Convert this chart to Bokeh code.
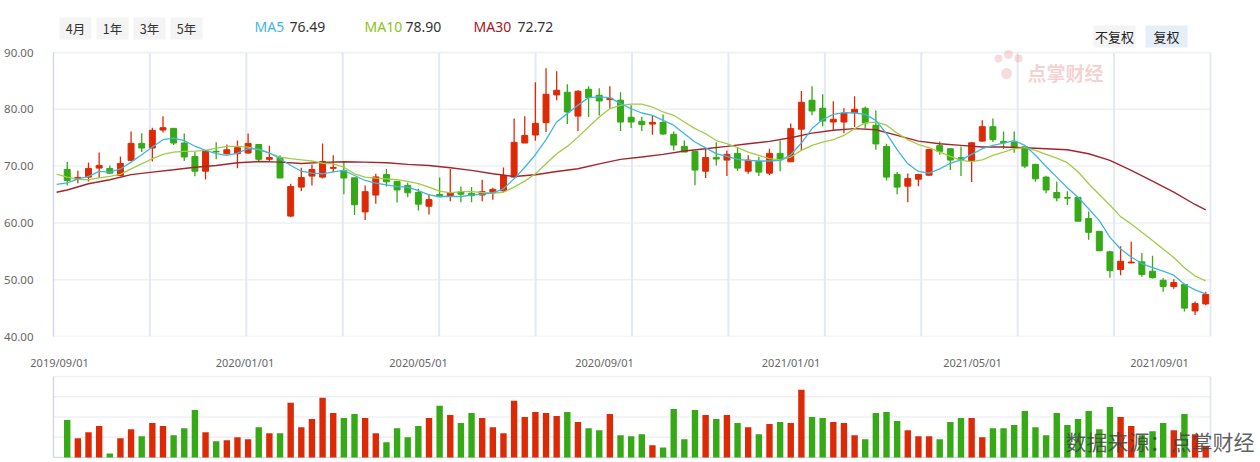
from bokeh.plotting import figure
from bokeh.models import ColumnDataSource, FixedTicker, Range1d, NumeralTickFormatter, Label
from bokeh.layouts import column
from bokeh.embed import file_html
from bokeh.resources import INLINE
from bokeh.core.properties import value

# ---------------- data (weekly candles) ----------------
opens = [69.41, 67.65, 68.06, 69.65, 69.59, 68.35, 71.0, 74.0, 73.18, 76.35,
         76.65, 74.06, 71.7, 69.1, 72.6, 72.18, 72.18, 72.3, 73.8, 71.2,
         71.5, 61.2, 66.3, 68.24, 68.06, 69.6, 69.2, 67.94, 61.94, 64.9,
         68.5, 67.3, 66.6, 65.35, 62.94, 65.0, 64.65, 65.47, 65.2, 64.9,
         65.3, 65.65, 68.06, 74.06, 75.47, 77.65, 82.53, 83.0, 78.8, 83.53,
         82.47, 81.7, 81.6, 78.6, 77.9, 77.4, 77.7, 75.6, 73.47, 72.6,
         69.1, 71.53, 71.06, 72.24, 69.1, 70.8, 68.76, 72.24, 70.76, 76.5,
         81.6, 80.18, 77.76, 77.76, 79.4, 80.18, 77.18, 73.47, 68.53, 66.47,
         67.7, 68.4, 73.6, 73.06, 71.47, 70.9, 74.4, 76.94, 74.35, 74.18,
         73.4, 70.3, 68.06, 65.35, 64.47, 64.5, 60.77, 58.5, 54.9, 51.78,
         52.96, 53.14, 51.5, 49.9, 48.8, 49.17, 44.5, 45.74]
highs = [70.7, 69.2, 70.65, 72.4, 70.12, 71.7, 76.1, 75.8, 76.76, 78.76,
         76.65, 75.76, 72.5, 72.76, 74.2, 73.8, 74.5, 75.76, 73.8, 73.6,
         71.9, 66.9, 69.7, 70.3, 74.0, 71.9, 70.7, 67.94, 66.6, 68.65,
         69.5, 67.3, 67.06, 66.0, 65.1, 68.0, 69.5, 66.4, 66.3, 67.6,
         66.2, 69.76, 78.4, 78.76, 84.76, 87.24, 86.7, 84.4, 83.35, 84.06,
         83.7, 84.06, 83.0, 80.7, 78.7, 78.9, 79.1, 76.1, 74.5, 72.6,
         73.1, 74.2, 72.76, 73.2, 71.9, 71.65, 73.06, 74.5, 77.5, 83.2,
         84.06, 82.65, 81.4, 80.18, 82.3, 80.5, 79.8, 73.94, 68.94, 68.7,
         68.65, 73.06, 74.35, 73.06, 73.47, 74.18, 78.06, 78.4, 76.1, 76.1,
         73.4, 70.4, 68.3, 67.3, 65.56, 64.5, 62.0, 58.6, 55.1, 55.9,
         56.7, 54.7, 54.2, 50.3, 50.06, 49.3, 46.15, 47.9]
lows = [66.6, 67.0, 67.3, 67.9, 68.6, 68.2, 70.9, 72.5, 70.8, 75.9,
        73.7, 70.9, 68.2, 67.65, 71.2, 72.06, 69.6, 72.2, 70.9, 70.8,
        67.9, 61.0, 65.6, 66.6, 67.8, 68.9, 65.06, 61.4, 60.5, 63.35,
        66.4, 63.6, 64.5, 62.2, 61.5, 64.6, 63.8, 63.65, 63.65, 63.8,
        64.06, 65.5, 68.06, 74.06, 74.47, 76.0, 81.6, 77.4, 76.2, 78.65,
        78.9, 80.1, 76.2, 76.7, 76.2, 75.5, 75.5, 72.76, 72.47, 66.65,
        67.9, 70.1, 68.24, 69.2, 68.65, 68.24, 68.4, 69.1, 70.76, 72.76,
        78.94, 77.0, 76.4, 75.8, 76.9, 76.6, 72.9, 67.47, 65.06, 63.65,
        66.47, 68.3, 72.0, 69.3, 68.24, 67.18, 74.3, 74.24, 73.0, 72.35,
        69.65, 67.24, 65.2, 63.8, 63.14, 60.3, 57.04, 55.03, 50.35, 50.8,
        52.9, 50.5, 50.2, 47.9, 48.4, 44.4, 43.8, 45.5]
closes = [67.47, 68.0, 69.59, 70.12, 68.76, 70.47, 74.0, 73.18, 76.3, 76.76,
          74.06, 71.6, 69.1, 72.65, 72.5, 72.88, 73.24, 74.0, 71.2, 71.5,
          67.9, 66.4, 68.0, 69.4, 70.8, 69.76, 67.9, 63.2, 65.5, 68.1,
          67.24, 65.8, 65.3, 63.3, 64.1, 64.6, 65.3, 65.06, 64.8, 65.5,
          65.9, 68.35, 74.18, 75.4, 77.53, 82.65, 83.35, 79.53, 83.18, 82.06,
          81.47, 81.94, 77.76, 77.76, 77.3, 77.7, 75.65, 73.7, 72.47, 69.3,
          71.53, 71.24, 72.06, 69.65, 71.06, 68.94, 72.24, 71.1, 76.6, 81.24,
          79.7, 77.94, 78.24, 79.35, 80.0, 77.6, 73.9, 68.06, 66.3, 67.8,
          68.53, 72.94, 72.6, 71.06, 71.1, 74.1, 76.94, 74.65, 74.1, 73.24,
          70.0, 67.76, 65.8, 64.4, 64.35, 60.3, 58.34, 55.1, 51.6, 53.25,
          53.1, 50.9, 50.35, 48.8, 49.5, 45.0, 45.8, 47.4]
volumes = [1.85, 0.95, 1.25, 1.55, 0.2, 0.95, 1.4, 1.05, 1.7, 1.55,
           1.1, 1.45, 2.35, 1.25, 0.8, 0.85, 1.0, 0.9, 1.5, 1.2,
           1.2, 2.7, 1.5, 1.9, 2.95, 2.2, 1.95, 2.15, 1.95, 1.2,
           0.75, 1.45, 1.0, 1.55, 1.95, 2.55, 2.1, 1.7, 2.2, 1.95,
           1.5, 1.2, 2.8, 2.0, 2.25, 2.2, 2.05, 2.25, 1.75, 1.45,
           1.35, 2.15, 1.1, 1.05, 1.15, 0.6, 0.5, 2.4, 0.9, 2.35,
           2.1, 1.9, 2.1, 1.7, 1.5, 1.15, 1.65, 1.75, 1.7, 3.35,
           2.0, 1.95, 1.75, 1.7, 1.1, 0.9, 2.2, 2.25, 1.8, 1.35,
           1.05, 1.05, 0.9, 1.75, 1.95, 1.95, 1.0, 1.45, 1.45, 1.6,
           2.3, 1.5, 1.1, 2.2, 1.6, 1.9, 2.3, 1.4, 2.5, 2.0,
           1.55, 1.1, 1.3, 1.7, 1.35, 2.15, 1.15, 0.55]

# moving averages (first value = week before the first candle)
ma5 = [66.8, 67.06, 67.7, 68.2, 69.06, 68.94, 69.5, 70.7, 72.0, 73.35, 74.65,
       74.94, 74.5, 73.5, 72.76, 72.18, 71.9, 72.3, 73.06, 73.0, 72.3,
       71.3, 70.1, 69.1, 68.76, 68.65, 69.0, 69.24, 68.35, 67.47, 67.0,
       66.7, 66.4, 66.3, 65.7, 64.94, 64.65, 64.65, 64.65, 64.9, 65.06,
       65.3, 66.0, 67.76, 69.8, 72.0, 74.65, 77.76, 79.24, 80.7, 82.06,
       82.18, 82.06, 81.0, 80.1, 79.35, 78.94, 78.06, 77.2, 75.7, 74.24,
       73.2, 72.2, 71.7, 71.18, 71.0, 70.9, 70.9, 71.0, 72.0, 74.06,
       76.6, 78.2, 79.1, 79.4, 79.35, 79.1, 78.06, 75.7, 72.9, 70.4,
       69.06, 68.76, 69.5, 70.5, 71.1, 72.06, 73.06, 73.65, 74.06, 74.5,
       73.65, 71.9, 69.94, 68.06, 66.2, 64.5, 62.5, 60.4, 57.46, 55.4,
       54.0, 52.84, 52.13, 51.5, 50.8, 49.2, 48.2, 47.5]
ma10 = [68.6, 68.06, 67.65, 67.6, 67.94, 68.18, 68.53, 69.5, 70.4, 71.3, 72.06,
        72.47, 72.6, 72.65, 72.76, 73.18, 73.47, 73.47, 73.35, 72.88, 72.3,
        71.6, 71.3, 71.1, 70.9, 70.5, 70.4, 69.8, 68.65, 68.06, 67.9,
        67.76, 67.6, 67.3, 66.9, 66.3, 65.6, 65.3, 65.5, 65.5, 65.35,
        65.24, 65.4, 66.3, 67.35, 68.65, 70.4, 72.18, 73.47, 75.1, 76.9,
        78.65, 80.1, 80.7, 80.9, 80.9, 80.4, 79.53, 78.94, 77.76, 76.6,
        75.7, 74.5, 73.94, 73.24, 72.47, 71.9, 71.3, 71.1, 71.6, 72.76,
        73.65, 74.24, 74.65, 75.4, 76.6, 77.6, 77.76, 77.2, 75.8, 74.65,
        73.8, 73.24, 72.47, 71.7, 71.0, 70.8, 71.1, 71.9, 72.47, 73.06,
        73.24, 72.76, 72.06, 71.4, 70.6, 69.0, 66.9, 65.0, 63.1, 61.1,
        59.8, 58.34, 56.9, 55.4, 53.9, 52.1, 50.65, 49.8]
ma30_week = [-1, 0, 2, 4, 6, 8, 10, 12, 14, 16, 18, 20, 22, 24, 26, 28, 30, 32, 34,
             36, 38, 40, 42, 44, 46, 48, 50, 52, 54, 56, 58, 60, 62, 64, 66, 68,
             70, 72, 74, 76, 78, 80, 82, 84, 86, 88, 90, 92, 94, 96, 98, 100,
             102, 104, 106, 107]
ma30 = [65.4, 65.8, 66.9, 67.6, 68.5, 68.94, 69.35, 69.8, 70.1, 70.6, 70.8, 70.7,
        70.47, 70.65, 70.76, 70.7, 70.6, 70.3, 70.1, 69.7, 69.24, 68.65, 68.18,
        68.47, 69.06, 69.53, 70.4, 71.18, 71.6, 72.06, 72.65, 73.06, 73.47,
        73.94, 74.35, 75.0, 75.8, 76.3, 76.6, 76.4, 75.4, 74.4, 73.94, 73.65,
        73.35, 73.35, 73.24, 73.06, 72.88, 72.18, 71.0, 69.24, 67.35, 65.4,
        63.24, 62.3]

tick_labels = ["2019/09/01", "2020/01/01", "2020/05/01", "2020/09/01",
               "2021/01/01", "2021/05/01", "2021/09/01"]
tick_pos = [-0.72, 16.71, 33.02, 50.5, 68.03, 85.08, 102.66]
price_ticks = [40, 50, 60, 70, 80, 90]
vol_grid = [1, 2, 3, 4]

# ---------------- styling / layout constants ----------------
RED = "#dd2a06"
GREEN = "#35a916"
C_MA5 = "#3fb6de"
C_MA10 = "#a2cc46"
C_MA30 = "#a3262a"
GRID_H = "#eef0f4"
GRID_V = "#e4e9f1"
AXIS = "#c9d3e3"
LBL = "#666666"
NUMFONT = "Noto Sans"
CJK = "Noto Sans CJK SC"

W = 1260
LEFT = 53                      # frame left (px)
X0, X1 = -1.29, 107.45         # candle-index span of the chart body (px 53..1210)
PPX = 1157 / (X1 - X0)          # px per week
PPY = 284 / 50                  # px per price unit
Y_TOP = 40 + 336 / PPY          # price value at the very top of the page


def dx(px):
    return X0 + (px - LEFT) / PPX


def dy(py):
    return 40 + (336 - py) / PPY


n = len(opens)
xs = list(range(n))
cols = [RED if c >= o else GREEN for o, c in zip(opens, closes)]
src = ColumnDataSource(dict(
    x=xs, open=opens, close=closes, high=highs, low=lows,
    top=[max(o, c) for o, c in zip(opens, closes)],
    bottom=[min(o, c) for o, c in zip(opens, closes)],
    vol=volumes, color=cols))

xr = Range1d(X0, dx(1259))

# ---------------- main pane (header + candles) ----------------
p = figure(width=W, height=346, x_range=xr, y_range=Range1d(40, Y_TOP),
           x_axis_location=None, toolbar_location=None, output_backend="svg",
           min_border_left=LEFT, min_border_right=1, min_border_top=0, min_border_bottom=10)
p.outline_line_color = None
p.background_fill_color = "white"
p.yaxis.ticker = FixedTicker(ticks=price_ticks)
p.yaxis.bounds = (40, 90)
p.yaxis.formatter = NumeralTickFormatter(format="0.00")
p.yaxis.major_tick_line_color = None
p.yaxis.minor_tick_line_color = None
p.yaxis.axis_line_color = AXIS
p.yaxis.axis_line_width = 1.2
p.yaxis.major_label_text_font = NUMFONT
p.yaxis.major_label_text_font_size = "11.5px"
p.yaxis.major_label_text_color = LBL
p.yaxis.major_label_standoff = 14
p.grid.visible = False
grid_x = [X0 + (X1 - X0) * k / 12 for k in range(1, 13)]
p.segment(x0=X0, y0=price_ticks, x1=X1, y1=price_ticks, line_color=GRID_H, line_width=1.5)
p.segment(x0=grid_x, y0=40, x1=grid_x, y1=90, line_color=GRID_V, line_width=2)

# header controls
btn_x = [dx(v) for v in (75, 112, 149, 186)]
p.rect(x=btn_x, y=dy(28), width=32, height=22, width_units="screen", height_units="screen",
       fill_color="#f4f4f4", line_color=None)
p.text(x=btn_x, y=dy(28), text=["4月", "1年", "3年", "5年"], text_font=value(CJK),
       text_font_size="12.5px", text_color="#333333", text_align="center", text_baseline="middle")
p.text(x=[dx(254), dx(364), dx(473)], y=dy(26), text=["MA5", "MA10", "MA30"],
       text_font=value(NUMFONT), text_font_size="14px",
       text_color=[C_MA5, "#8cc220", "#a8141e"], text_align="left", text_baseline="middle")
p.text(x=[dx(289), dx(405), dx(517)], y=dy(26), text=["76.49", "78.90", "72.72"],
       text_font=value(NUMFONT), text_font_size="14px", text_color="#333333",
       text_align="left", text_baseline="middle")
p.rect(x=[dx(1114), dx(1166)], y=dy(36), width=42, height=22, width_units="screen",
       height_units="screen", fill_color=["#f4f4f4", "#e6eef8"], line_color=None)
p.text(x=[dx(1114), dx(1166)], y=dy(36), text=["不复权", "复权"], text_font=value(CJK),
       text_font_size="13px", text_color="#222222", text_align="center", text_baseline="middle")

# watermark logo
p.scatter(x=[dx(998), dx(1008), dx(1018), dx(1006)], y=[dy(58), dy(54), dy(58), dy(73)],
          size=[8, 9, 8, 11], marker="circle", fill_color="#e58a8a", line_color=None, alpha=0.3)
p.text(x=[dx(1027)], y=[dy(72)], text=["点掌财经"], text_font=value(CJK), text_font_size="19px",
       text_font_style="bold", text_color="#e79a9a", text_alpha=0.45,
       text_align="left", text_baseline="middle")

# candles and moving averages
p.segment(x0="x", y0="low", x1="x", y1="high", line_color="color", line_width=1.3, source=src)
p.vbar(x="x", width=0.56, top="top", bottom="bottom", fill_color="color",
       line_color="color", line_width=1, source=src)
p.line(x=ma30_week, y=ma30, line_color=C_MA30, line_width=1.4)
p.line(x=list(range(-1, n)), y=ma10, line_color=C_MA10, line_width=1.3)
p.line(x=list(range(-1, n)), y=ma5, line_color=C_MA5, line_width=1.3)

# ---------------- volume pane ----------------
VPPY = 81 / 4.0
v = figure(width=W, height=116, x_range=xr,
           y_range=Range1d(-1 / VPPY, 4 + 1 / VPPY),
           x_axis_location="above", toolbar_location=None, output_backend="svg",
           min_border_left=LEFT, min_border_right=1, min_border_top=29, min_border_bottom=4)
v.outline_line_color = None
v.xaxis.ticker = FixedTicker(ticks=tick_pos)
v.xaxis.major_label_overrides = {t: s for t, s in zip(tick_pos, tick_labels)}
v.xaxis.axis_line_color = None
v.xaxis.major_tick_line_color = None
v.xaxis.minor_tick_line_color = None
v.xaxis.major_label_standoff = 0
v.xaxis.major_label_text_font = NUMFONT
v.xaxis.major_label_text_font_size = "11px"
v.xaxis.major_label_text_color = LBL
v.grid.visible = False
v.yaxis.ticker = FixedTicker(ticks=[])
v.yaxis.bounds = (0, 4)
v.yaxis.axis_line_color = AXIS
v.yaxis.axis_line_width = 1.2
v.yaxis.major_tick_line_color = None
v.yaxis.minor_tick_line_color = None
v.segment(x0=X0, y0=vol_grid, x1=X1, y1=vol_grid, line_color=GRID_H, line_width=1.5)
v.segment(x0=[X0, X1], y0=[0, 0], x1=[X1, X1], y1=[0, 4],
          line_color=["#d3dbe8", "#e4e9f1"], line_width=[1.5, 2])
v.vbar(x="x", width=0.6, top="vol", bottom=0, fill_color="color", line_color=None, source=src)
v.add_layout(Label(x=dx(1065), y=0.8, text="数据来源：点掌财经", text_font=CJK, text_font_size="21px",
                   text_color="#444444", text_alpha=0.85, text_baseline="middle", text_align="left"))

layout = column(p, v, spacing=0)
open("out.html", "w").write(file_html(layout, INLINE))
